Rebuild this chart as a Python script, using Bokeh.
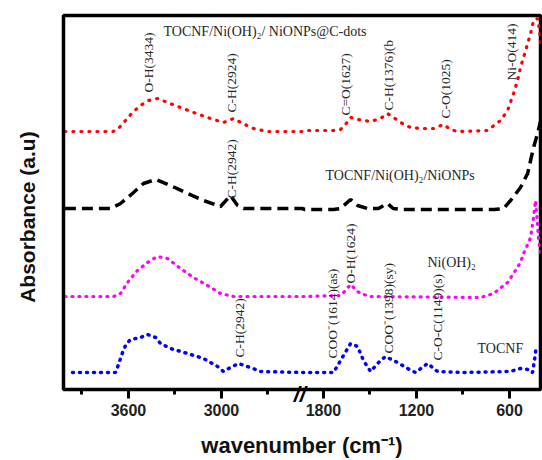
import math
from bokeh.plotting import figure
from bokeh.models import ColumnDataSource, FixedTicker, Range1d, LinearAxis
from bokeh.core.properties import value
from bokeh.embed import file_html
from bokeh.resources import INLINE

# ---------------------------------------------------------------------------
# FTIR spectra (wavenumber in cm^-1, absorbance in arbitrary stacked units)
# ---------------------------------------------------------------------------
cdots_wn = [4010, 3700, 3664, 3619, 3574, 3522, 3471, 3413, 3348, 3264, 3180, 3090,
            2987, 2922, 2864, 2793, 2703, 2480, 1920, 1735, 1690, 1658, 1625, 1580,
            1496, 1432, 1387, 1348, 1303, 1238, 1174, 1090, 1025, 980, 935, 742,
            658, 612, 574, 548, 529, 496, 464, 445, 419, 406, 400]
cdots_abs = [2.58, 2.58, 2.61, 2.69, 2.77, 2.84, 2.89, 2.91, 2.87, 2.82, 2.77, 2.72,
             2.67, 2.71, 2.66, 2.61, 2.58, 2.58, 2.59, 2.59, 2.60, 2.65, 2.72, 2.70,
             2.68, 2.71, 2.76, 2.72, 2.67, 2.62, 2.61, 2.61, 2.65, 2.60, 2.58, 2.59,
             2.69, 2.79, 2.96, 3.09, 3.22, 3.39, 3.56, 3.69, 3.71, 3.59, 3.46]

nionps_wn = [4010, 3716, 3651, 3567, 3503, 3425, 3329, 3219, 3116, 3006, 2942, 2896,
             2858, 2480, 1920, 1735, 1690, 1625, 1580, 1516, 1445, 1387, 1350, 1300,
             700, 638, 593, 529, 483, 464, 445, 419, 400]
nionps_abs = [1.81, 1.81, 1.86, 1.97, 2.06, 2.10, 2.04, 1.96, 1.89, 1.83, 1.94, 1.84,
              1.81, 1.81, 1.80, 1.80, 1.81, 1.90, 1.84, 1.81, 1.81, 1.86, 1.81, 1.80,
              1.80, 1.81, 1.89, 2.02, 2.16, 2.29, 2.42, 2.56, 2.68]

nioh_wn = [4010, 3696, 3651, 3606, 3542, 3477, 3413, 3348, 3264, 3180, 3090, 3006,
           2922, 2480, 1920, 1690, 1658, 1625, 1580, 1561, 1496, 787, 703, 612,
           574, 529, 509, 477, 464, 445, 432, 419, 412, 400]
nioh_abs = [0.93, 0.93, 0.96, 1.07, 1.19, 1.27, 1.33, 1.31, 1.21, 1.12, 1.04, 0.96,
            0.93, 0.93, 0.93, 0.94, 0.99, 1.05, 0.98, 0.96, 0.93, 0.92, 0.96, 1.07,
            1.16, 1.27, 1.36, 1.47, 1.52, 1.72, 1.89, 1.64, 1.49, 1.37]

tocnf_wn = [3961, 3684, 3664, 3638, 3619, 3587, 3522, 3477, 3425, 3393, 3329, 3219,
            3116, 3025, 2987, 2942, 2890, 2813, 2748, 2480, 1920, 1735, 1690, 1625,
            1580, 1542, 1496, 1445, 1400, 1322, 1258, 1206, 1129, 1064, 900, 600,
            574, 529, 483, 464, 451, 440, 428]
tocnf_abs = [0.17, 0.17, 0.25, 0.37, 0.44, 0.50, 0.52, 0.55, 0.52, 0.46, 0.41, 0.36,
             0.31, 0.23, 0.18, 0.22, 0.26, 0.22, 0.18, 0.17, 0.17, 0.17, 0.29, 0.46,
             0.43, 0.29, 0.18, 0.27, 0.33, 0.27, 0.21, 0.17, 0.26, 0.18, 0.17, 0.18,
             0.19, 0.21, 0.20, 0.17, 0.17, 0.28, 0.42]

# Tick positions (cm^-1)
major_ticks = [3600, 3000, 1800, 1200, 600]
minor_ticks = [3900, 3300, 2700, 1500, 900]

# Band assignments drawn vertically: (text, wavenumber, absorbance at text foot)
band_text = ["O-H(3434)", "C-H(2924)", "C=O(1627)", "C-H(1376)(b", "C-O(1025)",
             "Ni-O(414)", "C-H(2942)", "COO\u207b(1614)(as)", "O-H(1624)",
             "COO\u207b(1398)(sy)", "C-O-C(1149)(s)", "C-H(2942)"]
band_wn = [3471, 2935, 1658, 1380, 1012, 587, 2935, 1742, 1625, 1380, 1064, 2884]
band_y = [2.97, 2.77, 2.74, 2.79, 2.71, 3.09, 1.91, 0.31, 1.06, 0.36, 0.29, 0.32]

# Sample names drawn horizontally: (text, wavenumber at left edge, absorbance)
name_text = ["TOCNF/Ni(OH)\u2082/ NiONPs@C-dots", "TOCNF/Ni(OH)\u2082/NiONPs",
             "Ni(OH)\u2082", "TOCNF"]
name_wn = [3374, 1787, 1129, 806]
name_y = [3.58, 2.14, 1.27, 0.41]

# ---------------------------------------------------------------------------
# Broken wavenumber axis: 4020-2450 on the left, 1935-400 on the right.
# The right-hand segment is shifted so both share one continuous scale.
# ---------------------------------------------------------------------------
BREAK_AT = 2200
SHIFT = 542
BREAK_MARK = 2495  # position of the "//" sign on the shared scale


def axis_pos(w):
    return w if w > BREAK_AT else w + SHIFT


def axis_list(ws):
    return [axis_pos(w) for w in ws]


p = figure(width=542, height=460, output_backend="svg", toolbar_location=None,
           x_range=Range1d(4019, 942), y_range=Range1d(0, 3.74),
           min_border_left=63, min_border_right=2, min_border_top=15,
           min_border_bottom=71)
p.background_fill_color = "white"
p.border_fill_color = "white"
p.outline_line_color = "black"
p.outline_line_width = 3.5
p.xgrid.visible = False
p.ygrid.visible = False

# Spectra
p.line(axis_list(tocnf_wn), tocnf_abs, line_color="#0000ff", line_width=3.5,
       line_dash="1 6", line_cap="round")
p.line(axis_list(nioh_wn), nioh_abs, line_color="#ff00ff", line_width=3.2,
       line_dash="1 6", line_cap="round")
p.line(axis_list(nionps_wn), nionps_abs, line_color="black", line_width=3.5,
       line_dash="11 6")
p.line(axis_list(cdots_wn), cdots_abs, line_color="#ff0000", line_width=3.2,
       line_dash="1 7", line_cap="round")

# Vertical band labels
band_src = ColumnDataSource(dict(x=axis_list(band_wn), y=band_y, text=band_text))
p.text(x="x", y="y", text="text", source=band_src, angle=math.pi / 2,
       text_align="left", text_baseline="middle",
       text_font=value("Liberation Serif"), text_font_size=value("13.5px"),
       text_color="#262626")

# Sample names
name_src = ColumnDataSource(dict(x=axis_list(name_wn), y=name_y, text=name_text))
p.text(x="x", y="y", text="text", source=name_src,
       text_align="left", text_baseline="middle",
       text_font=value("Liberation Serif"), text_font_size=value("14px"),
       text_color="#262626")

# X axis with overridden tick labels
p.xaxis.ticker = FixedTicker(ticks=axis_list(major_ticks),
                             minor_ticks=axis_list(minor_ticks))
p.xaxis.major_label_overrides = {axis_pos(t): str(t) for t in major_ticks}
p.xaxis.axis_line_width = 3
p.xaxis.major_tick_line_width = 3
p.xaxis.minor_tick_line_width = 3
p.xaxis.major_tick_in = 0
p.xaxis.major_tick_out = 9
p.xaxis.minor_tick_in = 0
p.xaxis.minor_tick_out = 5
p.xaxis.major_label_standoff = 5
p.xaxis.major_label_text_font = "Liberation Sans"
p.xaxis.major_label_text_font_style = "bold"
p.xaxis.major_label_text_font_size = "16px"
p.xaxis.major_label_text_color = "#222222"
p.xaxis.axis_label = "wavenumber (cm\u207b\u00b9)"
p.xaxis.axis_label_text_font = "Liberation Sans"
p.xaxis.axis_label_text_font_style = "bold"
p.xaxis.axis_label_text_font_size = "22px"
p.xaxis.axis_label_text_color = "#111111"
p.xaxis.axis_label_standoff = 14

# Break sign "//": an extra label-only axis whose label is pulled back up
# onto the bottom axis line
break_axis = LinearAxis(ticker=FixedTicker(ticks=[BREAK_MARK], minor_ticks=[]),
                        major_label_overrides={BREAK_MARK: "//"},
                        axis_line_color=None, major_tick_line_color=None,
                        minor_tick_line_color=None,
                        major_tick_out=0, minor_tick_out=0,
                        major_label_standoff=-79,
                        major_label_text_font="Liberation Sans",
                        major_label_text_font_style="bold italic",
                        major_label_text_font_size="22px",
                        major_label_text_color="black")
p.add_layout(break_axis, "below")

# Y axis: label only
p.yaxis.ticker = FixedTicker(ticks=[])
p.yaxis.axis_line_width = 3
p.yaxis.major_tick_out = 0
p.yaxis.major_tick_in = 0
p.yaxis.minor_tick_out = 0
p.yaxis.minor_tick_in = 0
p.yaxis.major_label_standoff = 0
p.yaxis.axis_label = "Absorbance (a.u)" + "\u00a0" * 5
p.yaxis.axis_label_text_font = "Liberation Sans"
p.yaxis.axis_label_text_font_style = "bold"
p.yaxis.axis_label_text_font_size = "21px"
p.yaxis.axis_label_text_color = "#111111"
p.yaxis.axis_label_standoff = 25

open("out.html", "w").write(file_html(p, INLINE))
